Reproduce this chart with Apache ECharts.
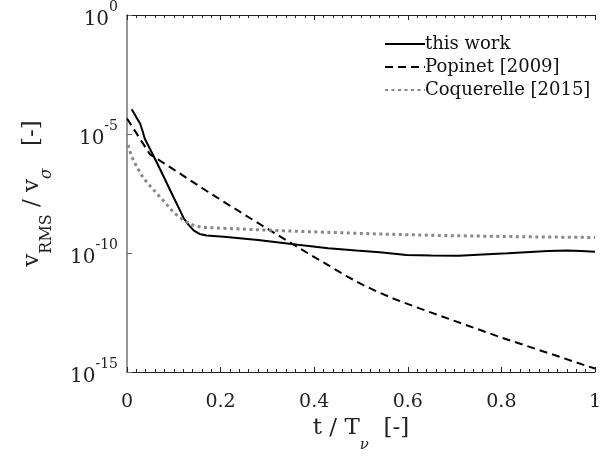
<!DOCTYPE html>
<html>
<head>
<meta charset="utf-8">
<script src="https://cdn.jsdelivr.net/npm/echarts@6/dist/echarts.min.js"></script>
<style>
html,body{margin:0;padding:0;background:#fff;}
#chart{width:604px;height:458px;}
</style>
</head>
<body>
<div id="chart"></div>
<script>
// t / T_nu values and v_RMS / v_sigma values
const thisWorkT = [0.010,0.020,0.028,0.033,0.038,0.060,0.080,0.100,0.122,0.133,0.143,0.155,0.170,0.207,0.280,0.365,0.430,0.490,0.540,0.597,0.650,0.709,0.760,0.814,0.900,0.940,0.970,1.000];
const thisWorkV = [1.1e-4,5.0e-5,2.75e-5,1.41e-5,6.3e-6,8.9e-7,1.38e-7,2.1e-8,2.7e-9,1.41e-9,8.7e-10,6.3e-10,5.4e-10,4.8e-10,3.5e-10,2.2e-10,1.6e-10,1.26e-10,1.07e-10,8.3e-11,7.8e-11,7.6e-11,8.7e-11,9.8e-11,1.2e-10,1.26e-10,1.2e-10,1.12e-10];

const popinetT = [0.000,0.049,0.100,0.175,0.250,0.365,0.420,0.470,0.500,0.534,0.570,0.625,0.700,0.800,0.900,0.977,1.000];
const popinetV = [4.5e-5,1.4e-6,3.2e-7,3.5e-8,4.2e-9,1.74e-10,4.0e-11,1.05e-11,5.0e-12,2.4e-12,1.2e-12,4.7e-13,1.4e-13,2.8e-14,6.3e-15,1.95e-15,1.4e-15];

const coqT = [0.002,0.010,0.020,0.035,0.050,0.080,0.100,0.120,0.140,0.160,0.200,0.280,0.386,0.534,0.680,0.850,1.000];
const coqV = [3.47e-6,1.12e-6,4.47e-7,1.41e-7,6.3e-8,1.41e-8,5.0e-9,2.4e-9,1.51e-9,1.2e-9,1.1e-9,9.5e-10,7.9e-10,6.3e-10,5.4e-10,4.8e-10,4.5e-10];

const seriesNames = ['this work', 'Popinet [2009]', 'Coquerelle [2015]'];
const xTicks = [0, 0.2, 0.4, 0.6, 0.8, 1];
const yTickExponents = [-15, -10, -5, 0];

const FONT = 'DejaVu Serif';
function pairs(xs, ys){ return xs.map((x,i)=>[x, ys[i]]); }

const chart = echarts.init(document.getElementById('chart'), null, {renderer:'canvas'});
const option = {
  animation: false,
  backgroundColor: '#fff',
  grid: {left: 127, right: 4, top: 12, bottom: 86, containLabel: false},
  legend: {
    orient: 'vertical',
    left: 379, top: 30,
    itemWidth: 40, itemHeight: 14, itemGap: 5,
    itemStyle: {opacity: 0, borderWidth: 0},
    textStyle: {fontFamily: FONT, fontSize: 18, color: '#111', padding: [0,0,0,-5]},
    data: seriesNames
  },
  xAxis: [{
    type: 'value', min: 0, max: 1, interval: 0.2, position: 'bottom',
    axisLine: {show: true, lineStyle: {color: '#222', width: 1}},
    axisTick: {show: true, inside: true, length: 5, lineStyle: {color: '#222'}},
    minorTick: {show: true, splitNumber: 10, length: 3, lineStyle: {color: '#222'}},
    splitLine: {show: false},
    axisLabel: {fontFamily: FONT, fontSize: 19, color: '#222', margin: 21,
      formatter: v => String(Math.round(v*10)/10)},
    name: '{m|t / T}{s|ν}{m|  [-]}',
    nameLocation: 'middle', nameGap: 43,
    nameTextStyle: {
      rich: {
        m: {fontFamily: FONT, fontSize: 23, color: '#222', lineHeight: 26, verticalAlign: 'top'},
        s: {fontFamily: FONT, fontSize: 15, fontStyle: 'italic', color: '#222', lineHeight: 36, verticalAlign: 'bottom'}
      }
    }
  },{
    type: 'value', min: 0, max: 1, interval: 0.2, position: 'top',
    axisLine: {show: true, lineStyle: {color: '#222', width: 1}},
    axisTick: {show: true, inside: true, length: 5, lineStyle: {color: '#222'}},
    minorTick: {show: true, splitNumber: 10, length: 3, lineStyle: {color: '#222'}},
    splitLine: {show: false},
    axisLabel: {show: false}
  }],
  yAxis: [{
    type: 'log', logBase: 10, min: 1e-15, max: 1, interval: 5, position: 'left',
    axisLine: {show: true, lineStyle: {color: '#909090', width: 1.5}},
    axisTick: {show: true, inside: true, length: 5, lineStyle: {color: '#666'}},
    splitLine: {show: false},
    axisLabel: {
      margin: 9,
      formatter: v => '{b|10}{e|' + String(Math.round(Math.log10(v))) + '}',
      rich: {
        b: {fontFamily: FONT, fontSize: 20, color: '#222', lineHeight: 30, verticalAlign: 'bottom'},
        e: {fontFamily: FONT, fontSize: 14, color: '#222', lineHeight: 16, verticalAlign: 'top'}
      }
    },
    name: '{m|v}{s|RMS}{m| / v}{g|σ}{m|   [-]}',
    nameLocation: 'middle', nameGap: 72,
    nameTextStyle: {
      rich: {
        m: {fontFamily: FONT, fontSize: 23, color: '#222', lineHeight: 26, verticalAlign: 'top'},
        s: {fontFamily: FONT, fontSize: 16, color: '#222', lineHeight: 34, verticalAlign: 'bottom'},
        g: {fontFamily: FONT, fontSize: 16, fontStyle: 'italic', color: '#222', lineHeight: 34, verticalAlign: 'bottom'}
      }
    }
  },{
    type: 'log', logBase: 10, min: 1e-15, max: 1, interval: 5, position: 'right',
    axisLine: {show: true, lineStyle: {color: '#909090', width: 1.5}},
    axisTick: {show: false},
    splitLine: {show: false},
    axisLabel: {show: false}
  }],
  series: [
    {name: seriesNames[0], type: 'line', xAxisIndex: 0, yAxisIndex: 0, symbol: 'none',
     lineStyle: {color: '#000', width: 2, type: 'solid'}, itemStyle: {color: '#000'},
     data: pairs(thisWorkT, thisWorkV)},
    {name: seriesNames[1], type: 'line', xAxisIndex: 0, yAxisIndex: 0, symbol: 'none',
     lineStyle: {color: '#000', width: 2, type: [8, 5]}, itemStyle: {color: '#000'},
     data: pairs(popinetT, popinetV)},
    {name: seriesNames[2], type: 'line', xAxisIndex: 0, yAxisIndex: 0, symbol: 'none',
     lineStyle: {color: '#888', width: 3, type: [3, 3.5]}, itemStyle: {color: '#888'},
     data: pairs(coqT, coqV)}
  ]
};
chart.setOption(option);
</script>
</body>
</html>
